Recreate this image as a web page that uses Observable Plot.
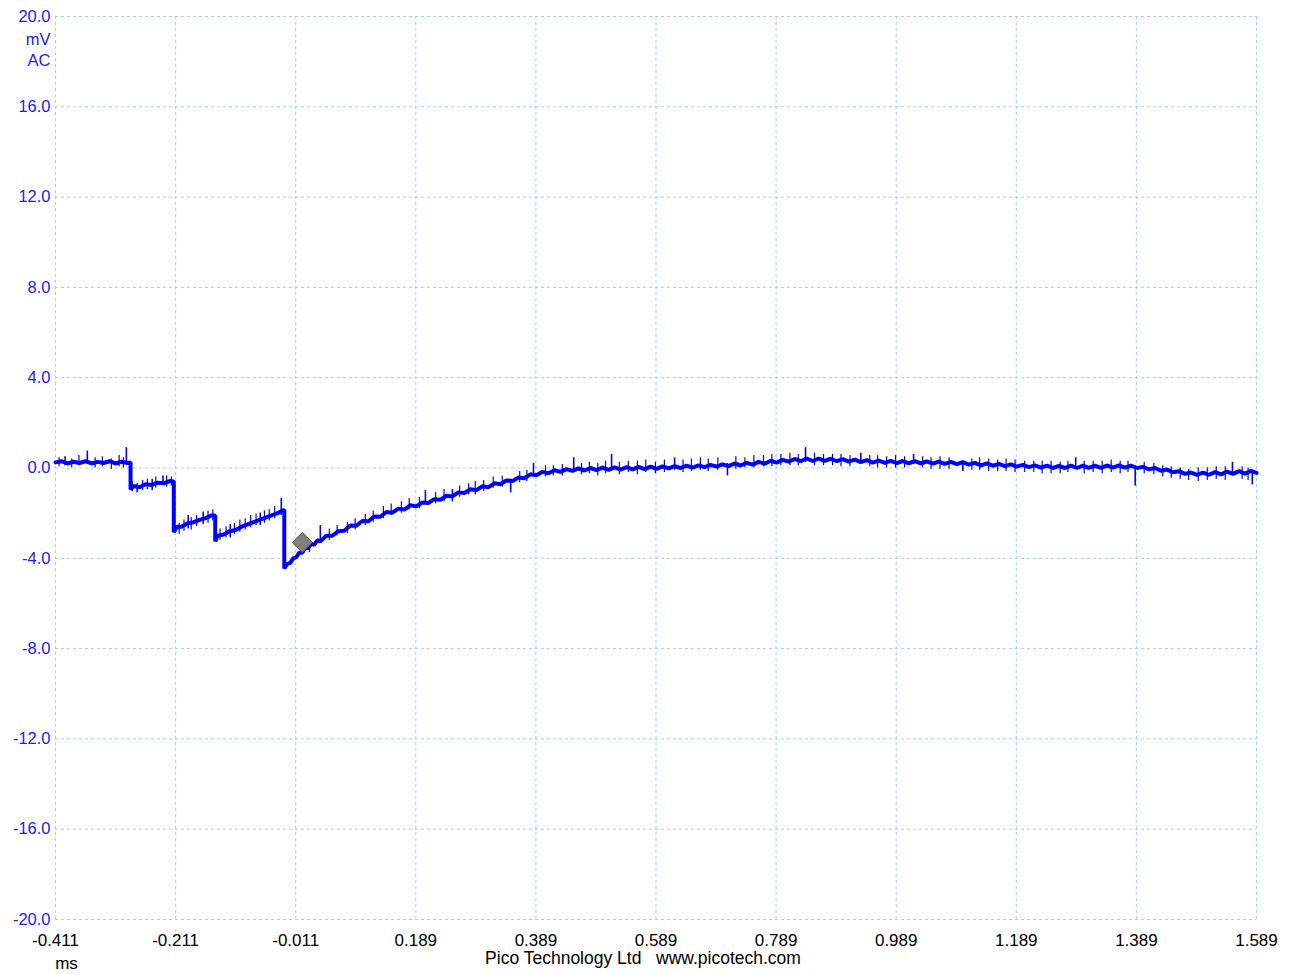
<!DOCTYPE html>
<html>
<head>
<meta charset="utf-8">
<script src="https://cdn.jsdelivr.net/npm/d3@7"></script>
<script src="https://cdn.jsdelivr.net/npm/@observablehq/plot@0.6"></script>
<style>
  html, body { margin: 0; padding: 0; background: #ffffff; }
  #chart svg { display: block; }
</style>
</head>
<body>
<div id="chart"></div>
<script>
// ---- data ----
const xTicks = [-0.411, -0.211, -0.011, 0.189, 0.389, 0.589, 0.789, 0.989, 1.189, 1.389, 1.589];
const yTicks = [-20, -16, -12, -8, -4, 0, 4, 8, 12, 16, 20];
const yUnit = "mV";
const yCoupling = "AC";
const xUnit = "ms";
const credit = "Pico Technology Ltd   www.picotech.com";

// trace: [time ms, voltage mV]
const trace = [
  [-0.411, 0.25], [-0.401, 0.3], [-0.391, 0.2], [-0.381, 0.28], [-0.371, 0.22], [-0.361, 0.3],
  [-0.351, 0.2], [-0.341, 0.27], [-0.331, 0.22], [-0.321, 0.3], [-0.311, 0.2], [-0.301, 0.28],
  [-0.291, 0.22], [-0.286, 0.25],
  [-0.286, -0.95], [-0.281, -0.8], [-0.271, -0.85], [-0.261, -0.72], [-0.251, -0.75], [-0.241, -0.65],
  [-0.231, -0.68], [-0.221, -0.58], [-0.214, -0.6],
  [-0.214, -2.85], [-0.209, -2.6], [-0.201, -2.6], [-0.191, -2.45], [-0.181, -2.4], [-0.171, -2.3],
  [-0.161, -2.22], [-0.151, -2.1], [-0.145, -2.1],
  [-0.145, -3.25], [-0.141, -3.0], [-0.131, -2.95], [-0.121, -2.8], [-0.111, -2.75], [-0.101, -2.6],
  [-0.091, -2.5], [-0.081, -2.4], [-0.071, -2.3], [-0.061, -2.2], [-0.051, -2.1], [-0.041, -2.0],
  [-0.030, -1.85],
  [-0.030, -4.45], [-0.025, -4.25], [-0.020, -4.2], [-0.015, -4.0], [-0.010, -3.95], [-0.005, -3.75],
  [0.000, -3.75], [0.005, -3.55], [0.010, -3.55], [0.015, -3.35], [0.020, -3.4], [0.025, -3.2],
  [0.030, -3.25], [0.040, -3.0], [0.050, -3.0], [0.060, -2.8], [0.070, -2.78], [0.080, -2.55],
  [0.090, -2.56], [0.100, -2.35], [0.110, -2.36], [0.120, -2.15], [0.130, -2.16], [0.140, -1.95],
  [0.150, -1.98], [0.160, -1.8], [0.170, -1.84], [0.180, -1.65], [0.190, -1.7], [0.200, -1.53],
  [0.210, -1.55], [0.220, -1.38], [0.230, -1.41], [0.240, -1.23], [0.250, -1.26], [0.260, -1.08],
  [0.270, -1.11], [0.280, -0.94], [0.290, -0.98], [0.300, -0.81], [0.310, -0.85], [0.320, -0.68],
  [0.330, -0.72], [0.340, -0.55], [0.350, -0.58], [0.360, -0.42], [0.370, -0.45], [0.380, -0.28],
  [0.390, -0.32], [0.400, -0.17], [0.410, -0.23], [0.420, -0.1], [0.430, -0.17], [0.440, -0.05],
  [0.450, -0.13], [0.460, -0.02], [0.470, -0.11], [0.480, 0.0], [0.490, -0.09], [0.500, 0.02],
  [0.510, -0.08], [0.520, 0.03], [0.530, -0.07], [0.540, 0.04], [0.550, -0.06], [0.560, 0.05],
  [0.570, -0.05], [0.580, 0.06], [0.590, -0.04], [0.600, 0.07], [0.610, -0.02], [0.620, 0.08],
  [0.630, 0.0], [0.640, 0.1], [0.650, 0.02], [0.660, 0.12], [0.670, 0.04], [0.680, 0.14],
  [0.690, 0.06], [0.700, 0.16], [0.710, 0.08], [0.720, 0.2], [0.730, 0.11], [0.740, 0.23],
  [0.750, 0.15], [0.760, 0.27], [0.770, 0.19], [0.780, 0.32], [0.790, 0.24], [0.800, 0.36],
  [0.810, 0.28], [0.820, 0.4], [0.830, 0.3], [0.840, 0.42], [0.850, 0.31], [0.860, 0.42],
  [0.870, 0.32], [0.880, 0.41], [0.890, 0.3], [0.900, 0.39], [0.910, 0.28], [0.920, 0.37],
  [0.930, 0.26], [0.940, 0.35], [0.950, 0.24], [0.960, 0.33], [0.970, 0.23], [0.980, 0.32],
  [0.990, 0.22], [1.000, 0.31], [1.010, 0.21], [1.020, 0.3], [1.030, 0.2], [1.040, 0.29],
  [1.050, 0.19], [1.060, 0.28], [1.070, 0.18], [1.080, 0.27], [1.090, 0.17], [1.100, 0.26],
  [1.110, 0.15], [1.120, 0.23], [1.130, 0.12], [1.140, 0.2], [1.150, 0.1], [1.160, 0.18],
  [1.170, 0.08], [1.180, 0.16], [1.190, 0.06], [1.200, 0.14], [1.210, 0.04], [1.220, 0.12],
  [1.230, 0.02], [1.240, 0.1], [1.250, 0.0], [1.260, 0.09], [1.270, 0.0], [1.280, 0.1],
  [1.290, 0.0], [1.300, 0.1], [1.310, 0.01], [1.320, 0.1], [1.330, 0.01], [1.340, 0.11],
  [1.350, 0.02], [1.360, 0.11], [1.370, 0.02], [1.380, 0.1], [1.390, 0.0], [1.400, 0.05],
  [1.410, -0.06], [1.420, 0.0], [1.430, -0.12], [1.440, -0.07], [1.450, -0.19], [1.460, -0.14],
  [1.470, -0.26], [1.480, -0.2], [1.490, -0.3], [1.500, -0.2], [1.510, -0.3], [1.520, -0.18],
  [1.530, -0.28], [1.540, -0.16], [1.550, -0.26], [1.560, -0.14], [1.570, -0.25], [1.580, -0.13],
  [1.589, -0.22]
];

// large noise spikes: [time ms, low mV, high mV]
const spikes = [
  [-0.395, 0.1, 0.5], [-0.358, 0.15, 0.75], [-0.293, 0.2, 0.9], [-0.275, -1.1, -0.7],
  [-0.25, -1.0, -0.5], [-0.232, -0.75, -0.35], [-0.19, -2.7, -2.1], [-0.165, -2.5, -1.95],
  [-0.12, -3.1, -2.5], [-0.07, -2.55, -2.0], [-0.035, -2.1, -1.35], [0.03, -3.3, -2.55],
  [0.205, -1.6, -1.0], [0.25, -1.5, -0.95], [0.347, -1.1, -0.5], [0.385, -0.35, 0.2],
  [0.452, -0.15, 0.45], [0.515, -0.05, 0.6], [0.62, -0.1, 0.45], [0.708, -0.35, 0.2],
  [0.838, 0.25, 0.9], [0.93, 0.2, 0.65], [1.018, 0.15, 0.6], [1.1, -0.15, 0.3],
  [1.288, 0.0, 0.45], [1.387, -0.8, 0.1], [1.549, -0.3, 0.25], [1.582, -0.75, -0.15]
];

// fine noise hairs: [time ms, low mV, high mV]
const hairs = [
  [-0.405, 0.05, 0.45], [-0.384, 0.0, 0.4], [-0.372, 0.1, 0.55], [-0.345, 0.0, 0.45],
  [-0.333, 0.05, 0.5], [-0.318, -0.05, 0.4], [-0.305, 0.05, 0.55], [-0.298, 0.0, 0.45],
  [-0.283, -1.05, -0.6], [-0.266, -1.0, -0.55], [-0.258, -0.95, -0.5], [-0.244, -0.9, -0.4],
  [-0.226, -0.85, -0.35], [-0.218, -0.8, -0.4],
  [-0.205, -2.95, -2.45], [-0.197, -2.8, -2.3], [-0.185, -2.75, -2.2], [-0.176, -2.6, -2.1],
  [-0.157, -2.45, -1.9], [-0.149, -2.35, -1.85],
  [-0.137, -3.2, -2.7], [-0.127, -3.1, -2.6], [-0.113, -2.95, -2.45], [-0.104, -2.85, -2.3],
  [-0.095, -2.75, -2.25], [-0.086, -2.65, -2.1], [-0.077, -2.55, -2.05], [-0.063, -2.45, -1.9],
  [-0.055, -2.35, -1.85], [-0.046, -2.25, -1.7],
  [0.012, -3.75, -3.25], [0.045, -3.2, -2.7], [0.058, -3.0, -2.55], [0.075, -2.9, -2.4],
  [0.088, -2.75, -2.25], [0.105, -2.55, -2.05], [0.118, -2.4, -1.9], [0.135, -2.25, -1.7],
  [0.148, -2.1, -1.6], [0.165, -2.0, -1.5], [0.178, -1.85, -1.35], [0.195, -1.8, -1.3],
  [0.222, -1.6, -1.1], [0.236, -1.5, -0.95], [0.262, -1.3, -0.8], [0.277, -1.2, -0.7],
  [0.288, -1.2, -0.6], [0.302, -1.05, -0.55], [0.318, -0.9, -0.4], [0.333, -0.85, -0.35],
  [0.362, -0.65, -0.15], [0.374, -0.6, -0.1], [0.405, -0.4, 0.1], [0.418, -0.35, 0.1],
  [0.433, -0.35, 0.15], [0.465, -0.3, 0.2], [0.478, -0.25, 0.25], [0.492, -0.35, 0.2],
  [0.505, -0.25, 0.3], [0.528, -0.3, 0.25], [0.543, -0.2, 0.3], [0.558, -0.3, 0.3],
  [0.572, -0.2, 0.35], [0.588, -0.25, 0.25], [0.603, -0.2, 0.35], [0.634, -0.2, 0.35],
  [0.648, -0.15, 0.4], [0.663, -0.1, 0.45], [0.676, -0.15, 0.4], [0.692, -0.1, 0.45],
  [0.722, -0.05, 0.5], [0.737, 0.0, 0.45], [0.752, 0.0, 0.55], [0.768, 0.05, 0.55],
  [0.782, 0.05, 0.6], [0.797, 0.1, 0.6], [0.812, 0.1, 0.65], [0.826, 0.1, 0.6],
  [0.853, 0.1, 0.65], [0.868, 0.1, 0.6], [0.883, 0.1, 0.6], [0.897, 0.05, 0.6],
  [0.912, 0.05, 0.55], [0.945, 0.05, 0.55], [0.958, 0.0, 0.55], [0.973, 0.0, 0.5],
  [0.988, 0.0, 0.55], [1.003, 0.0, 0.5], [1.033, 0.0, 0.5], [1.047, -0.05, 0.45],
  [1.062, -0.05, 0.5], [1.077, -0.05, 0.45], [1.115, -0.1, 0.4], [1.128, -0.1, 0.45],
  [1.143, -0.15, 0.4], [1.158, -0.15, 0.35], [1.172, -0.15, 0.4], [1.187, -0.2, 0.35],
  [1.203, -0.2, 0.3], [1.218, -0.2, 0.3], [1.232, -0.25, 0.3], [1.247, -0.25, 0.3],
  [1.262, -0.25, 0.25], [1.275, -0.2, 0.3], [1.302, -0.25, 0.3], [1.317, -0.2, 0.3],
  [1.332, -0.25, 0.3], [1.347, -0.2, 0.35], [1.362, -0.25, 0.3], [1.375, -0.2, 0.3],
  [1.402, -0.25, 0.25], [1.418, -0.3, 0.2], [1.433, -0.4, 0.1], [1.447, -0.45, 0.05],
  [1.462, -0.5, 0.0], [1.476, -0.55, -0.05], [1.492, -0.6, 0.0], [1.507, -0.55, 0.0],
  [1.522, -0.5, 0.05], [1.537, -0.55, 0.05], [1.565, -0.5, 0.05], [1.575, -0.55, 0.0]
];

// trigger marker: [time ms, mV]
const trigger = [[0.0, -3.3]];

// ---- drawing ----
const gridColor = "#9fd2e3";
const labelBlue = "#1a1aff";
const font = "'Liberation Sans', Arial, sans-serif";

const chart = Plot.plot({
  width: 1294,
  height: 974,
  marginLeft: 55,
  marginRight: 38,
  marginTop: 16,
  marginBottom: 55,
  x: { domain: [-0.411, 1.589] },
  y: { domain: [-20, 20] },
  style: { fontFamily: font, fontSize: "16px", background: "#ffffff", overflow: "visible" },
  marks: [
    Plot.gridX(xTicks, { stroke: gridColor, strokeOpacity: 1, strokeWidth: 1, strokeDasharray: "3,3" }),
    Plot.gridY(yTicks, { stroke: gridColor, strokeOpacity: 1, strokeWidth: 1, strokeDasharray: "3,3" }),
    Plot.axisX(xTicks, { tickSize: 0, tickPadding: 14, tickFormat: d => d.toFixed(3), fill: "#000000", label: null, fontSize: 17 }),
    Plot.axisY(yTicks, { tickSize: 0, tickPadding: 5, tickFormat: d => d.toFixed(1), fill: labelBlue, label: null, fontSize: 16.5 }),
    Plot.text([yUnit], { x: () => -0.411, y: () => 20, text: d => d, textAnchor: "end", dx: -5, dy: 23, fill: labelBlue, fontSize: 16.5 }),
    Plot.text([yCoupling], { x: () => -0.411, y: () => 20, text: d => d, textAnchor: "end", dx: -5, dy: 44, fill: labelBlue, fontSize: 16.5 }),
    Plot.text([xUnit], { x: () => -0.411, y: () => -20, text: d => d, dx: 11, dy: 44, fill: "#000000", fontSize: 17 }),
    Plot.text([credit], { frameAnchor: "bottom", text: d => d, dx: -13, dy: 44, fill: "#000000", fontSize: 17.5, style: "white-space: pre" }),
    Plot.ruleX(hairs, { x: d => d[0], y1: d => d[1], y2: d => d[2], stroke: "#0000ff", strokeWidth: 1.2 }),
    Plot.ruleX(spikes, { x: d => d[0], y1: d => d[1], y2: d => d[2], stroke: "#0000ff", strokeWidth: 1.6 }),
    Plot.line(trace, { x: d => d[0], y: d => d[1], stroke: "#0000ff", strokeWidth: 4, strokeLinejoin: "miter" }),
    Plot.dot(trigger, { x: d => d[0], y: d => d[1], symbol: "diamond2", r: 9, fill: "#808080", stroke: "#505050", strokeWidth: 1 })
  ]
});
document.getElementById("chart").append(chart);
</script>
</body>
</html>
